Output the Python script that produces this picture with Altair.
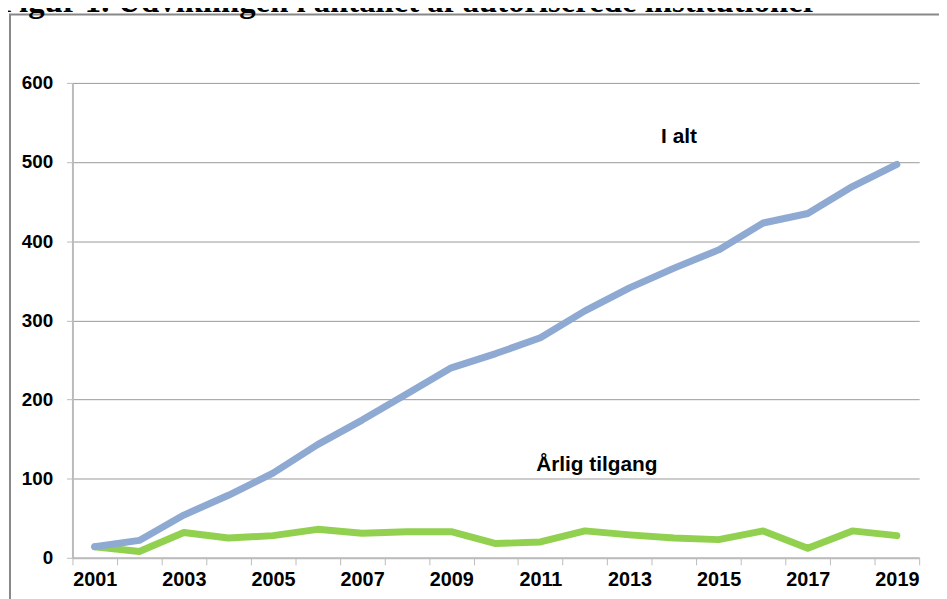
import altair as alt
import pandas as pd

years = list(range(2001, 2020))
i_alt = [14, 22, 54, 79, 107, 143, 174, 207, 240, 258, 278, 312, 341, 366, 389, 423, 435, 469, 497]
aarlig = [14, 8, 32, 25, 28, 36, 31, 33, 33, 18, 20, 34, 29, 25, 23, 34, 12, 34, 28]
series_names = ["Årlig tilgang", "I alt"]
series_colors = ["#92D050", "#8EA9D2"]

title_text = "Figur 1. Udviklingen i antallet af autoriserede institutioner"

rows = []
for name, vals in zip(series_names, [aarlig, i_alt]):
    for y, v in zip(years, vals):
        rows.append({"year": y, "value": v, "series": name})
df = pd.DataFrame(rows)

label_years = [2012, 2014]
label_values = [117, 532]
label_texts = ["Årlig tilgang", "I alt"]
labels_df = pd.DataFrame({"year": label_years, "value": label_values, "text": label_texts})

W, H = 854, 479

x_enc = alt.X(
    "year:O",
    scale=alt.Scale(type="band", paddingInner=0, paddingOuter=0, domain=years),
    axis=alt.Axis(
        title=None,
        labelAngle=0,
        tickBand="extent",
        labelExpr="datum.value % 2 == 1 ? datum.label : ''",
        labelFont="Liberation Sans",
        labelFontWeight="bold",
        labelFontSize=20,
        labelColor="#000000",
        labelPadding=5,
        tickSize=7,
        tickColor="#BBBBBB",
        domainColor="#BBBBBB",
        domainWidth=2,
        grid=False,
    ),
    bandPosition=0.5,
)
y_enc = alt.Y(
    "value:Q",
    scale=alt.Scale(domain=[0, 600], nice=False, zero=True),
    axis=alt.Axis(
        title=None,
        values=[0, 100, 200, 300, 400, 500, 600],
        labelFont="Liberation Sans",
        labelFontWeight="bold",
        labelFontSize=19,
        labelColor="#000000",
        labelPadding=14,
        tickSize=6,
        tickColor="#BBBBBB",
        domainColor="#BBBBBB",
        domainWidth=2,
        grid=True,
        gridColor="#999999",
        gridWidth=1,
    ),
)

lines = alt.Chart(df).mark_line(strokeWidth=7, strokeCap="round", strokeJoin="round").encode(
    x=x_enc,
    y=y_enc,
    color=alt.Color(
        "series:N",
        scale=alt.Scale(domain=series_names, range=series_colors),
        legend=None,
    ),
    order=alt.Order("year:O"),
)

text_aarlig = alt.Chart(labels_df.iloc[[0]]).mark_text(
    font="Liberation Sans", fontWeight="bold", fontSize=21, color="#000000",
    align="center", baseline="middle", dx=12
).encode(x=alt.X("year:O", bandPosition=0.5), y="value:Q", text="text:N")

text_ialt = alt.Chart(labels_df.iloc[[1]]).mark_text(
    font="Liberation Sans", fontWeight="bold", fontSize=21, color="#000000",
    align="center", baseline="middle", dx=5
).encode(x=alt.X("year:O", bandPosition=0.5), y="value:Q", text="text:N")

frame = alt.Chart(pd.DataFrame({"t": [title_text]})).mark_rect(
    fill=None, stroke="#888888", strokeWidth=2
).encode(
    x=alt.value(-63), x2=alt.value(W + 40),
    y=alt.value(-69), y2=alt.value(H + 60),
)

title = alt.Chart(pd.DataFrame({"t": [title_text]})).mark_text(
    font="Liberation Serif", fontWeight="bold", fontSize=33, color="#000000",
    align="left", baseline="alphabetic"
).encode(
    x=alt.value(-74), y=alt.value(-72), text="t:N"
)

chart = alt.layer(frame, lines, text_aarlig, text_ialt, title).properties(
    width=W, height=H,
    autosize=alt.AutoSizeParams(type="none"),
    padding={"left": 65, "top": 73, "right": 20, "bottom": 39},
    background="white",
).configure_view(stroke=None)

chart.save("out.html", embed_options={"renderer": "svg", "actions": False})
